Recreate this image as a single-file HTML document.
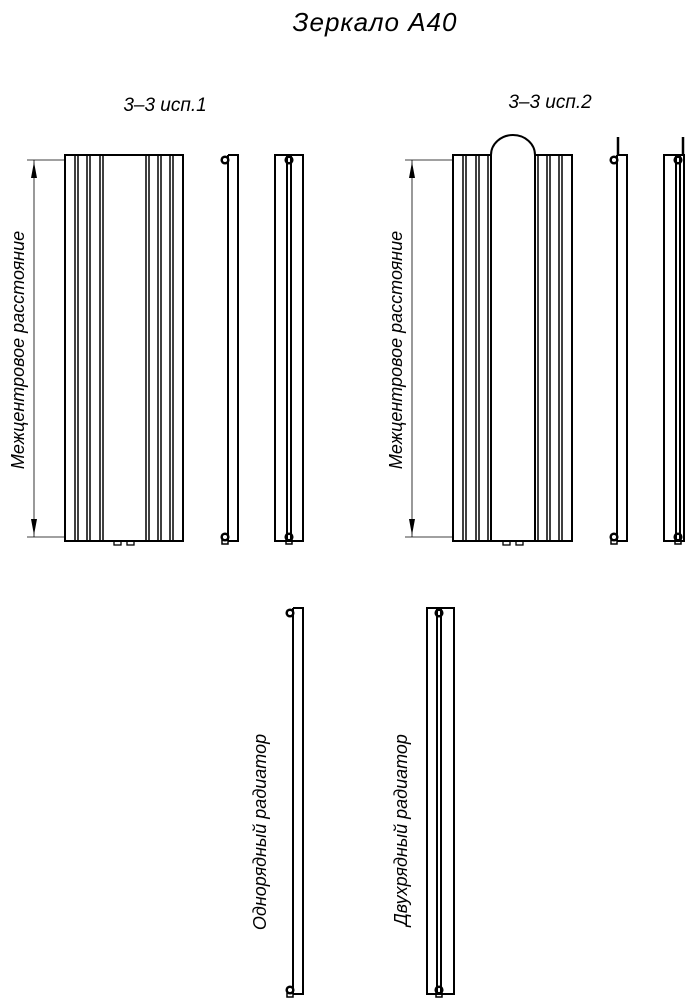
<!DOCTYPE html>
<html><head><meta charset="utf-8"><style>
html,body{margin:0;padding:0;background:#fff}
svg{display:block}
text{font-family:"Liberation Sans",sans-serif;font-style:italic;fill:#000}
</style></head><body>
<svg width="694" height="1000" viewBox="0 0 694 1000" xmlns="http://www.w3.org/2000/svg">
<g fill="none" stroke="#000" stroke-width="2">
<text x="375" y="31" font-size="26" text-anchor="middle" stroke="none" letter-spacing="1">Зеркало А40</text>
<text x="165" y="111" font-size="19" text-anchor="middle" stroke="none">3–3 исп.1</text>
<text x="550" y="108" font-size="19" text-anchor="middle" stroke="none">3–3 исп.2</text>

<!-- left panel -->
<rect x="65" y="155" width="118" height="386"/>
<g stroke-width="1.5">
<line x1="75" y1="155" x2="75" y2="541"/><line x1="78" y1="155" x2="78" y2="541"/>
<line x1="87" y1="155" x2="87" y2="541"/><line x1="90" y1="155" x2="90" y2="541"/>
<line x1="100" y1="155" x2="100" y2="541"/><line x1="103" y1="155" x2="103" y2="541"/>
<line x1="146" y1="155" x2="146" y2="541"/><line x1="149" y1="155" x2="149" y2="541"/>
<line x1="158" y1="155" x2="158" y2="541"/><line x1="161" y1="155" x2="161" y2="541"/>
<line x1="170" y1="155" x2="170" y2="541"/><line x1="173" y1="155" x2="173" y2="541"/>
</g>
<rect x="114" y="541" width="7" height="4" stroke-width="1.3"/><rect x="127" y="541" width="7" height="4" stroke-width="1.3"/>
<g stroke-width="0.8"><line x1="27" y1="160" x2="65" y2="160"/><line x1="27" y1="537" x2="65" y2="537"/><line x1="34" y1="160" x2="34" y2="537"/></g>
<path d="M34 162 L31 178 L37 178Z M34 535 L31 519 L37 519Z" fill="#000" stroke="none"/>
<text transform="translate(24,350) rotate(-90)" font-size="18" text-anchor="middle" stroke="none">Межцентровое расстояние</text>

<!-- left side views -->
<polyline points="228,155 238,155 238,541 228,541"/><line x1="228" y1="155" x2="228" y2="541"/>
<circle cx="225" cy="160" r="3.3" stroke-width="2.5"/><circle cx="225" cy="537" r="3.3" stroke-width="2.5"/><rect x="222" y="540" width="6" height="4" stroke-width="1.5"/>
<rect x="275" y="155" width="28" height="386"/><line x1="287" y1="155" x2="287" y2="541"/><line x1="291" y1="155" x2="291" y2="541"/>
<circle cx="289" cy="160" r="3.3" stroke-width="2.5"/><circle cx="289" cy="537" r="3.3" stroke-width="2.5"/><rect x="286" y="540" width="6" height="4" stroke-width="1.5"/>

<!-- right panel -->
<path d="M491 155 L453 155 L453 541 L572 541 L572 155 L535 155"/>
<line x1="491" y1="155" x2="491" y2="541"/><line x1="535" y1="155" x2="535" y2="541"/>
<path d="M491 155 A22 20 0 0 1 535 155"/>
<g stroke-width="1.5">
<line x1="463" y1="155" x2="463" y2="541"/><line x1="466" y1="155" x2="466" y2="541"/>
<line x1="476" y1="155" x2="476" y2="541"/><line x1="479" y1="155" x2="479" y2="541"/>
<line x1="488" y1="155" x2="488" y2="541"/>
<line x1="538" y1="155" x2="538" y2="541"/>
<line x1="547" y1="155" x2="547" y2="541"/><line x1="550" y1="155" x2="550" y2="541"/>
<line x1="559" y1="155" x2="559" y2="541"/><line x1="562" y1="155" x2="562" y2="541"/>
</g>
<rect x="503" y="541" width="7" height="4" stroke-width="1.3"/><rect x="516" y="541" width="7" height="4" stroke-width="1.3"/>
<g stroke-width="0.8"><line x1="405" y1="160" x2="453" y2="160"/><line x1="405" y1="537" x2="453" y2="537"/><line x1="412" y1="160" x2="412" y2="537"/></g>
<path d="M412 162 L409 178 L415 178Z M412 535 L409 519 L415 519Z" fill="#000" stroke="none"/>
<text transform="translate(402,350) rotate(-90)" font-size="18" text-anchor="middle" stroke="none">Межцентровое расстояние</text>

<polyline points="617,155 627,155 627,541 617,541"/><line x1="617" y1="155" x2="617" y2="541"/>
<circle cx="614" cy="160" r="3.3" stroke-width="2.5"/><line x1="618" y1="137" x2="618" y2="156" stroke-width="2.5"/>
<circle cx="614" cy="537" r="3.3" stroke-width="2.5"/><rect x="611" y="540" width="6" height="4" stroke-width="1.5"/>
<rect x="664" y="155" width="20" height="386"/><line x1="676" y1="155" x2="676" y2="541"/><line x1="680" y1="155" x2="680" y2="541"/>
<circle cx="678" cy="160" r="3.3" stroke-width="2.5"/><line x1="683" y1="137" x2="683" y2="156" stroke-width="2.5"/>
<circle cx="678" cy="537" r="3.3" stroke-width="2.5"/><rect x="675" y="540" width="6" height="4" stroke-width="1.5"/>

<!-- bottom views -->
<polyline points="293,608 303,608 303,994 293,994"/><line x1="293" y1="608" x2="293" y2="994"/>
<circle cx="290" cy="613" r="3.3" stroke-width="2.5"/><circle cx="290" cy="990" r="3.3" stroke-width="2.5"/><rect x="287" y="993" width="6" height="4" stroke-width="1.5"/>
<text transform="translate(266,832) rotate(-90)" font-size="18" text-anchor="middle" stroke="none">Однорядный радиатор</text>

<rect x="427" y="608" width="27" height="386"/><line x1="437" y1="608" x2="437" y2="994"/><line x1="441" y1="608" x2="441" y2="994"/>
<circle cx="439" cy="613" r="3.3" stroke-width="2.5"/><circle cx="439" cy="990" r="3.3" stroke-width="2.5"/><rect x="436" y="993" width="6" height="4" stroke-width="1.5"/>
<text transform="translate(407,830) rotate(-90)" font-size="18" text-anchor="middle" stroke="none">Двухрядный радиатор</text>
</g>
</svg>
</body></html>
